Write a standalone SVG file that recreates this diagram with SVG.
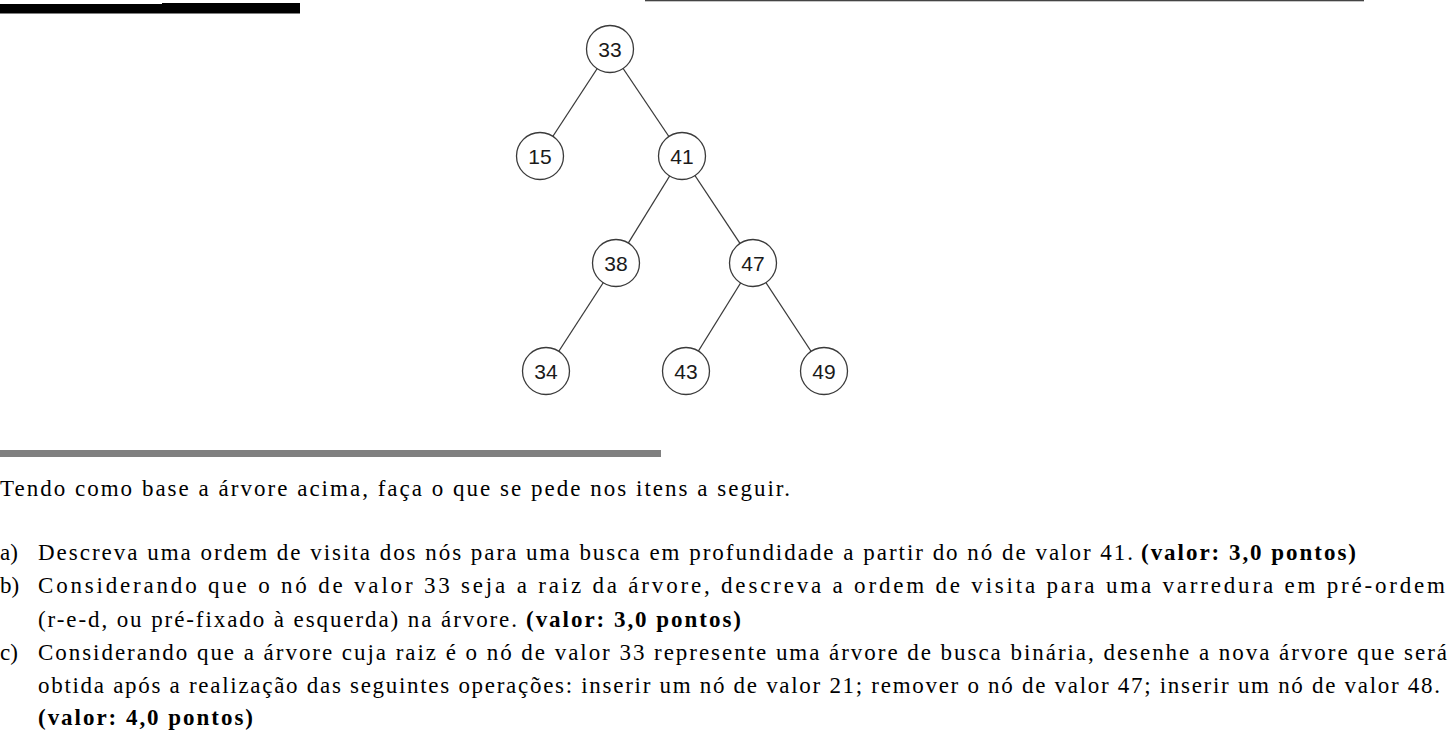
<svg xmlns="http://www.w3.org/2000/svg" width="1448" height="733" viewBox="0 0 1448 733">
<style>
.edge{stroke:#3a3a3a;stroke-width:1.3;fill:none}
.node circle{fill:#fff;stroke:#3a3a3a;stroke-width:1.3}
.node text{font-family:"Liberation Sans",Arial,sans-serif;font-size:21px;fill:#1a1a1a;text-anchor:middle}
.t{font-family:"Liberation Serif","Times New Roman",serif;font-size:23px;fill:#000}
.b{font-weight:bold}
</style>
<rect width="1448" height="733" fill="#fff"/>
<path d="M0 4 H162 V3 H300 V13.5 H0 Z" fill="#000"/>
<rect x="645" y="0" width="719" height="1.3" fill="#444"/>
<rect x="0" y="450" width="661" height="7" fill="#808080"/>
<g id="connectors">
<line class="edge" x1="610" y1="49" x2="540" y2="156"/>
<line class="edge" x1="610" y1="49" x2="682" y2="156"/>
<line class="edge" x1="682" y1="156" x2="616" y2="263"/>
<line class="edge" x1="682" y1="156" x2="753" y2="263"/>
<line class="edge" x1="616" y1="263" x2="546" y2="371"/>
<line class="edge" x1="753" y1="263" x2="686" y2="371"/>
<line class="edge" x1="753" y1="263" x2="824" y2="371"/>
</g>
<g id="n33" class="node"><circle cx="610" cy="49" r="23.5"/><text x="610" y="56.5">33</text></g>
<g id="n15" class="node"><circle cx="540" cy="156" r="23.5"/><text x="540" y="163.5">15</text></g>
<g id="n41" class="node"><circle cx="682" cy="156" r="23.5"/><text x="682" y="163.5">41</text></g>
<g id="n38" class="node"><circle cx="616" cy="263" r="23.5"/><text x="616" y="270.5">38</text></g>
<g id="n47" class="node"><circle cx="753" cy="263" r="23.5"/><text x="753" y="270.5">47</text></g>
<g id="n34" class="node"><circle cx="546" cy="371" r="23.5"/><text x="546" y="378.5">34</text></g>
<g id="n43" class="node"><circle cx="686" cy="371" r="23.5"/><text x="686" y="378.5">43</text></g>
<g id="n49" class="node"><circle cx="824" cy="371" r="23.5"/><text x="824" y="378.5">49</text></g>
<g id="text">
<text class="t" x="0" y="496" textLength="790" lengthAdjust="spacing">Tendo como base a árvore acima, faça o que se pede nos itens a seguir.</text>
<text class="t" x="0" y="560">a)</text>
<text class="t" x="38" y="560" textLength="1095" lengthAdjust="spacing">Descreva uma ordem de visita dos nós para uma busca em profundidade a partir do nó de valor 41.</text>
<text class="t b" x="1141" y="560" textLength="215" lengthAdjust="spacing">(valor: 3,0 pontos)</text>
<text class="t" x="0" y="593">b)</text>
<text class="t" x="38" y="593" textLength="1407" lengthAdjust="spacing">Considerando que o nó de valor 33 seja a raiz da árvore, descreva a ordem de visita para uma varredura em pré-ordem</text>
<text class="t" x="38" y="627" textLength="479" lengthAdjust="spacing">(r-e-d, ou pré-fixado à esquerda) na árvore.</text>
<text class="t b" x="526" y="627" textLength="215" lengthAdjust="spacing">(valor: 3,0 pontos)</text>
<text class="t" x="0" y="660">c)</text>
<text class="t" x="38" y="660" textLength="1409" lengthAdjust="spacing">Considerando que a árvore cuja raiz é o nó de valor 33 represente uma árvore de busca binária, desenhe a nova árvore que será</text>
<text class="t" x="38" y="693" textLength="1402" lengthAdjust="spacing">obtida após a realização das seguintes operações: inserir um nó de valor 21; remover o nó de valor 47; inserir um nó de valor 48.</text>
<text class="t b" x="38" y="725" textLength="215" lengthAdjust="spacing">(valor: 4,0 pontos)</text>
</g>
</svg>
